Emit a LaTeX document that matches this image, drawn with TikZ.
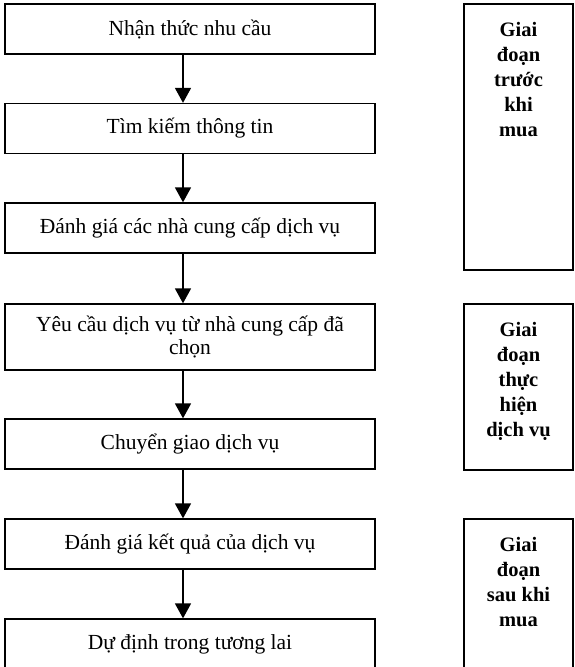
\documentclass[tikz,border=0pt]{standalone}
\usepackage{fontspec}
\setmainfont{Liberation Serif}
\usetikzlibrary{arrows.meta}

\begin{document}
\begin{tikzpicture}[x=1pt,y=1pt,
  stepbox/.style={draw, line width=1.3pt, minimum width=370pt, inner sep=0pt,
    align=center, font=\fontsize{21.5}{23.5}\selectfont},
  phasebox/.style={draw, line width=1.3pt, minimum width=109pt, inner sep=0pt},
  phasetext/.style={anchor=north, align=center, inner sep=0pt,
    font=\bfseries\fontsize{20.5}{25}\selectfont},
  flow/.style={line width=1.6pt, -{Triangle[length=15pt,width=16pt]}}]
\useasboundingbox (0,0) rectangle (574,-667);
\clip (0,0) rectangle (574,-667);

% process steps
\node[stepbox, minimum height=50pt] (s1) at (190,-29)    {Nhận thức nhu cầu};
\node[stepbox, minimum height=50pt] (s2) at (190,-128.5) {Tìm kiếm thông tin};
\node[stepbox, minimum height=50pt] (s3) at (190,-228)   {Đánh giá các nhà cung cấp dịch vụ};
\node[stepbox, minimum height=66pt] (s4) at (190,-337)   {Yêu cầu dịch vụ từ nhà cung cấp đã\\chọn};
\node[stepbox, minimum height=50pt] (s5) at (190,-444)   {Chuyển giao dịch vụ};
\node[stepbox, minimum height=50pt] (s6) at (190,-544)   {Đánh giá kết quả của dịch vụ};
\node[stepbox, minimum height=50pt] (s7) at (190,-644)   {Dự định trong tương lai};

% arrows between steps
\coordinate (ax) at (183,0);
\draw[flow] (s1.south -| ax) -- (s2.north -| ax);
\draw[flow] (s2.south -| ax) -- (s3.north -| ax);
\draw[flow] (s3.south -| ax) -- (s4.north -| ax);
\draw[flow] (s4.south -| ax) -- (s5.north -| ax);
\draw[flow] (s5.south -| ax) -- (s6.north -| ax);
\draw[flow] (s6.south -| ax) -- (s7.north -| ax);

% phases
\node[phasebox, minimum height=266pt] (p1) at (518.5,-137)   {};
\node[phasebox, minimum height=166pt] (p2) at (518.5,-387)   {};
\node[phasebox, minimum height=181pt] (p3) at (518.5,-609.5) {};

\node[phasetext] (t1) at ([yshift=-19pt]p1.north) {Giai\\đoạn\\trước\\khi\\mua};
\node[phasetext] (t2) at ([yshift=-19pt]p2.north) {Giai\\đoạn\\thực\\hiện\\dịch vụ};
\node[phasetext] (t3) at ([yshift=-19pt]p3.north) {Giai\\đoạn\\sau khi\\mua};
\end{tikzpicture}
\end{document}
